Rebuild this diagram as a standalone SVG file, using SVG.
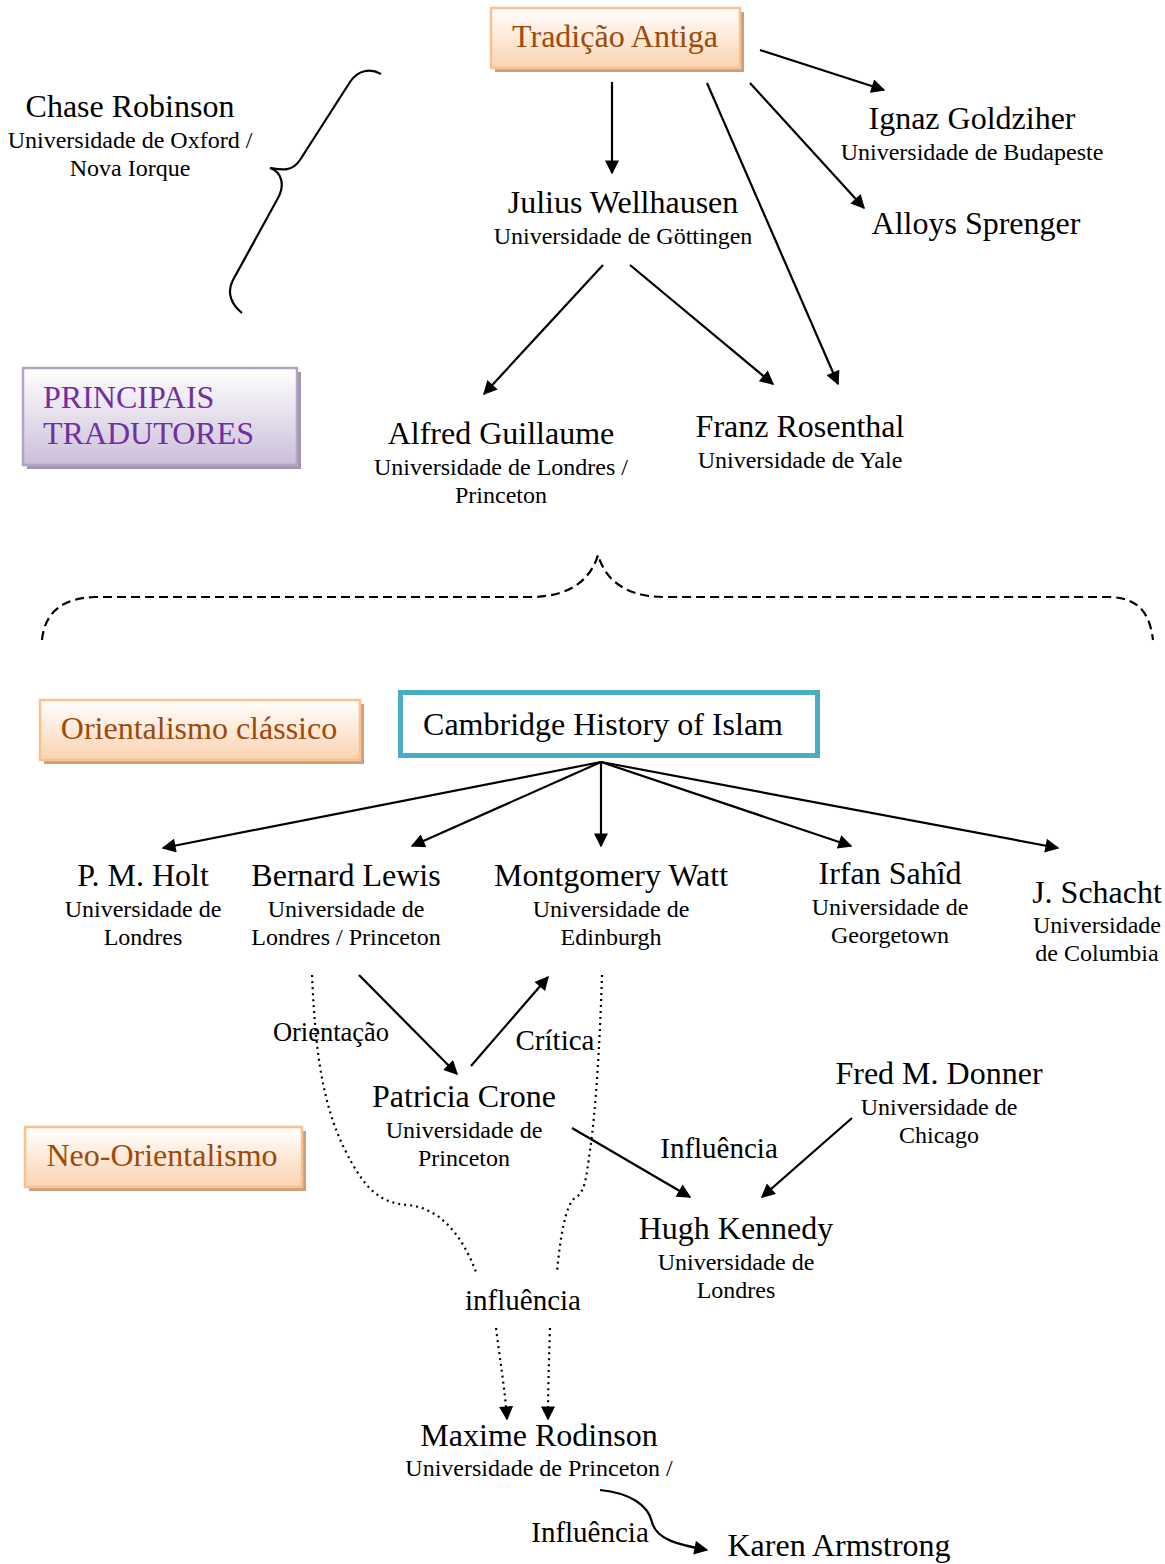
<svg xmlns="http://www.w3.org/2000/svg" width="1165" height="1564" viewBox="0 0 1165 1564">
<defs>
<linearGradient id="gOr" x1="0" y1="0" x2="0" y2="1"><stop offset="0" stop-color="#ffffff"/><stop offset="1" stop-color="#fbd3b0"/></linearGradient>
<linearGradient id="gPu" x1="0" y1="0" x2="0" y2="1"><stop offset="0" stop-color="#ffffff"/><stop offset="1" stop-color="#cbbfd9"/></linearGradient>
<marker id="ahb" viewBox="0 0 10 10" refX="9" refY="5" markerWidth="16" markerHeight="14" markerUnits="userSpaceOnUse" orient="auto"><path d="M0,0 L10,5 L0,10 z" fill="#000"/></marker>
</defs>
<style>
text{font-family:"Liberation Serif","Times New Roman",serif;fill:#000;text-anchor:middle}
.n{font-size:32px}
.u{font-size:24px}
.l{font-size:29px}
.bo{fill:#9c4a0c;font-size:32px}
.bp{fill:#7030a0;font-size:32px;text-anchor:start}
.shO{fill:#c8a080}
.shP{fill:#9f96a8}
.boxO{fill:url(#gOr);stroke:#fac090;stroke-width:2.5}
.boxP{fill:url(#gPu);stroke:#b3a2c7;stroke-width:2.5}
.c{fill:none;stroke:#000;stroke-width:2.2}
.a{marker-end:url(#ahb)}
.dot{fill:none;stroke:#000;stroke-width:2.2;stroke-dasharray:2 4}
.dash{fill:none;stroke:#000;stroke-width:2.2;stroke-dasharray:9 5}
</style>

<g id="connectors">
<line class="c a" x1="612" y1="82" x2="612" y2="173"/>
<line class="c a" x1="760" y1="50" x2="884" y2="90"/>
<line class="c a" x1="750" y1="83" x2="864" y2="208"/>
<line class="c a" x1="707" y1="83" x2="838" y2="384"/>
<line class="c a" x1="603" y1="265" x2="484" y2="394"/>
<line class="c a" x1="630" y1="265" x2="773" y2="384"/>
<line class="c a" x1="601" y1="762" x2="163" y2="848"/>
<line class="c a" x1="601" y1="762" x2="412" y2="846"/>
<line class="c a" x1="601" y1="762" x2="601" y2="846"/>
<line class="c a" x1="601" y1="762" x2="851" y2="846"/>
<line class="c a" x1="601" y1="762" x2="1058" y2="848"/>
<line class="c a" x1="359" y1="975" x2="457" y2="1074"/>
<line class="c a" x1="471" y1="1066" x2="548" y2="977"/>
<line class="c a" x1="572" y1="1128" x2="690" y2="1197"/>
<line class="c a" x1="852" y1="1118" x2="762" y2="1197"/>
<path class="dot" d="M312,975 C315,1040 320,1100 345,1150 C365,1190 380,1203 408,1205 C440,1208 462,1235 476,1272"/>
<path class="dot" d="M602,975 C600,1040 596,1110 590,1150 C586,1180 585,1192 575,1198 C565,1205 560,1240 557,1272"/>
<path class="dot a" d="M496,1328 C500,1360 505,1390 507,1419"/>
<path class="dot a" d="M550,1328 C549,1360 548,1390 548,1419"/>
<path class="c a" d="M600,1490 C630,1493 648,1505 652,1522 C656,1540 680,1545 707,1550"/>
<path class="c" d="M381,74 C370,68 358,70 350,82 L300,160 C292,172 282,170 270,168 C282,172 285,185 278,198 L233,280 C226,293 232,305 242,313"/>
<path class="dash" d="M42,640 C45,610 65,598 95,597 L530,597 C575,597 592,575 598,555 C604,575 620,597 665,597 L1110,597 C1140,598 1150,615 1153,640"/>
</g>

<g id="tradicao">
<rect class="shO" x="495" y="12" width="249" height="60"/>
<rect class="boxO" x="491" y="8" width="249" height="60"/>
<text class="bo" x="615" y="47">Tradição Antiga</text>
</g>
<g id="chase"><text class="n" x="130" y="117">Chase Robinson</text><text class="u" x="130" y="148">Universidade de Oxford /</text><text class="u" x="130" y="176">Nova Iorque</text></g>
<g id="julius"><text class="n" x="623" y="213">Julius Wellhausen</text><text class="u" x="623" y="244">Universidade de Göttingen</text></g>
<g id="ignaz"><text class="n" x="972" y="129">Ignaz Goldziher</text><text class="u" x="972" y="160">Universidade de Budapeste</text></g>
<g id="alloys"><text class="n" x="976" y="234">Alloys Sprenger</text></g>
<g id="principais">
<rect class="shP" x="27" y="372" width="274" height="97"/>
<rect class="boxP" x="23" y="368" width="274" height="97"/>
<text class="bp" x="43" y="408">PRINCIPAIS</text>
<text class="bp" x="43" y="444">TRADUTORES</text>
</g>
<g id="alfred"><text class="n" x="501" y="444">Alfred Guillaume</text><text class="u" x="501" y="475">Universidade de Londres /</text><text class="u" x="501" y="503">Princeton</text></g>
<g id="franz"><text class="n" x="800" y="437">Franz Rosenthal</text><text class="u" x="800" y="468">Universidade de Yale</text></g>
<g id="orientalismo">
<rect class="shO" x="44" y="704" width="320" height="60"/>
<rect class="boxO" x="40" y="700" width="320" height="60"/>
<text class="bo" x="199" y="739">Orientalismo clássico</text>
</g>
<g id="cambridge">
<rect x="400.5" y="692.5" width="417" height="63" fill="#fff" stroke="#4bacc6" stroke-width="5"/>
<text class="n" x="603" y="735">Cambridge History of Islam</text>
</g>
<g id="holt"><text class="n" x="143" y="886">P. M. Holt</text><text class="u" x="143" y="917">Universidade de</text><text class="u" x="143" y="945">Londres</text></g>
<g id="lewis"><text class="n" x="346" y="886">Bernard Lewis</text><text class="u" x="346" y="917">Universidade de</text><text class="u" x="346" y="945">Londres / Princeton</text></g>
<g id="watt"><text class="n" x="611" y="886">Montgomery Watt</text><text class="u" x="611" y="917">Universidade de</text><text class="u" x="611" y="945">Edinburgh</text></g>
<g id="sahid"><text class="n" x="890" y="884">Irfan Sahîd</text><text class="u" x="890" y="915">Universidade de</text><text class="u" x="890" y="943">Georgetown</text></g>
<g id="schacht"><text class="n" x="1097" y="903">J. Schacht</text><text class="u" x="1097" y="933">Universidade</text><text class="u" x="1097" y="961">de Columbia</text></g>
<g id="labels">
<text class="l" x="331" y="1041" style="font-size:26.5px">Orientação</text>
<text class="l" x="555" y="1050">Crítica</text>
<text class="l" x="719" y="1158">Influência</text>
<text class="l" x="523" y="1310">influência</text>
<text class="l" x="590" y="1542">Influência</text>
</g>
<g id="crone"><text class="n" x="464" y="1107">Patricia Crone</text><text class="u" x="464" y="1138">Universidade de</text><text class="u" x="464" y="1166">Princeton</text></g>
<g id="donner"><text class="n" x="939" y="1084">Fred M. Donner</text><text class="u" x="939" y="1115">Universidade de</text><text class="u" x="939" y="1143">Chicago</text></g>
<g id="neo">
<rect class="shO" x="29" y="1131" width="277" height="60"/>
<rect class="boxO" x="25" y="1127" width="277" height="60"/>
<text class="bo" x="162" y="1166">Neo-Orientalismo</text>
</g>
<g id="kennedy"><text class="n" x="736" y="1239">Hugh Kennedy</text><text class="u" x="736" y="1270">Universidade de</text><text class="u" x="736" y="1298">Londres</text></g>
<g id="rodinson"><text class="n" x="539" y="1446">Maxime Rodinson</text><text class="u" x="539" y="1476">Universidade de Princeton /</text></g>
<g id="armstrong"><text class="n" x="839" y="1556">Karen Armstrong</text></g>
</svg>
